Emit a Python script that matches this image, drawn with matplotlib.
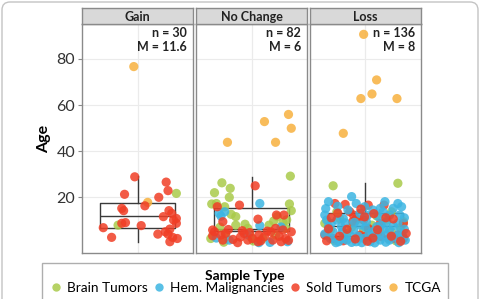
import matplotlib
matplotlib.use("Agg")
import matplotlib.pyplot as plt
from matplotlib.lines import Line2D
from matplotlib.patches import FancyBboxPatch
from matplotlib.transforms import IdentityTransform

plt.rcParams['font.family'] = ['Lato', 'DejaVu Sans']

W, H = 481, 299

PANELS = ["Gain", "No Change", "Loss"]
COUNTS = ["n = 30", "n = 82", "n = 136"]
MEDIANS = ["M = 11.6", "M = 6", "M = 8"]
TYPES = ["Brain Tumors", "Hem. Malignancies", "Sold Tumors", "TCGA"]
CODES = ["B", "H", "S", "T"]
COLORS = {"B": "#a9ca4a", "H": "#3cb5e2", "S": "#f03e26", "T": "#f7b13e"}

# Gain
gain_type = list("TT" + "BB" + "S" * 26)
gain_jit = [0.96, 1.11,
            1.42, 0.79,
            0.97, 1.31, 1.33, 0.86, 1.23, 1.08, 0.83, 0.85, 1.34, 1.37,
            1.28, 1.42, 1.42, 0.87, 1.04, 0.63, 1.35, 1.22, 1.33, 0.72,
            1.38, 1.43, 1.35, 1.39, 1.30, 0.83]
gain_age = [76.7, 17.7,
            21.6, 7.8,
            28.8, 26.5, 22.8, 21.2, 19.9, 16.2, 15.1, 14.1, 14.1, 12.9,
            11.5, 10.7, 8.6, 8.9, 7.6, 6.7, 6.1, 3.9, 3.9, 2.5,
            2.5, 2.0, 0.6, 10.0, 4.9, 8.6]

# No Change
nochange_type = list("T" * 5 + "B" * 29 + "H" * 12 + "S" * 36)
nochange_jit = [1.40, 1.43, 1.14, 0.74, 1.26,
                1.42, 0.68, 0.60, 0.77, 0.76, 0.57, 0.62, 1.41, 1.43, 0.71,
                0.78, 0.83, 0.83, 1.28, 1.34, 1.19, 0.96, 1.37, 0.72, 0.56,
                1.26, 1.12, 0.99, 0.66, 0.93, 1.24, 1.38, 1.02, 0.70,
                1.09, 0.65, 0.71, 0.67, 1.09, 0.76, 1.08, 1.39, 0.62, 1.20,
                0.95, 1.32,
                1.04, 0.87, 0.63, 0.69, 1.27, 1.35, 1.07, 0.60, 0.67, 0.72,
                0.90, 0.92, 0.80, 0.85, 0.96, 1.01, 1.08, 1.14, 1.21, 1.26,
                1.34, 1.43, 1.23, 1.32, 1.37, 0.69, 0.58, 1.07, 0.58, 0.75,
                0.98, 1.17, 1.30, 1.40, 1.10, 0.88]
nochange_age = [55.9, 49.9, 52.8, 43.8, 43.8,
                29.1, 26.2, 21.9, 23.8, 19.9, 17.0, 17.2, 17.0, 14.1, 15.8,
                12.5, 11.5, 7.8, 11.5, 8.9, 7.8, 6.4, 6.4, 3.5, 2.0,
                3.5, 2.0, 2.8, 6.9, 8.2, 9.6, 10.1, 0.9, 0.4,
                17.2, 12.9, 13.6, 11.7, 7.6, 1.3, 0.2, 0.6, 2.2, 0.3,
                3.8, 7.0,
                24.9, 16.5, 15.8, 9.3, 12.2, 12.2, 10.4, 4.9, 3.5, 4.2,
                5.4, 4.2, 1.6, 0.2, 1.3, 2.0, 3.5, 2.8, 4.9, 6.4,
                5.7, 4.9, 1.3, 0.6, 2.0, 1.3, 5.7, 0.6, 3.2, 5.9,
                4.6, 5.2, 3.0, 1.2, 1.0, 2.6]

# Loss
loss_type = list("T" * 6 + "B" * 20 + "S" * 22 + "H" * 70 + "S" * 18)
loss_jit = [0.98, 1.12, 1.07, 0.95, 1.34, 0.76,
            0.65, 1.35, 0.69, 0.56, 0.72, 1.07, 1.16, 1.28, 1.41, 1.28,
            0.62, 0.90, 1.23, 0.80, 0.98, 1.38, 0.66, 1.12, 0.85, 1.33,
            0.67, 0.78, 1.03, 1.20, 0.83, 0.87, 0.86, 0.98, 0.90, 1.03,
            1.16, 1.41, 0.56, 0.65, 0.76, 0.94, 0.99, 1.17, 1.25, 1.32,
            1.41, 1.35,
            0.85, 0.60, 0.90, 1.21, 1.35, 1.39, 1.30, 1.08, 0.56, 0.94,
            1.14, 1.26, 0.69, 0.76, 1.01, 0.60, 1.17, 1.35, 0.87, 1.07,
            1.26, 0.62, 0.71, 0.80, 0.90, 0.98, 1.05, 1.16, 1.32, 1.43,
            0.65, 0.74, 0.94, 1.12, 1.23, 0.81, 0.99, 1.16, 0.83, 1.23,
            1.37, 0.58, 0.76, 1.10, 1.37, 1.26,
            0.57, 0.70, 1.02, 1.19, 1.42, 0.63, 0.88, 1.30, 1.42, 0.75,
            1.00, 1.20, 0.56, 0.92, 1.15, 1.40, 0.68, 0.85, 0.96, 1.10,
            1.22, 1.36, 1.04, 0.78,
            0.60, 0.72, 0.89, 1.08, 1.13, 1.28, 1.44, 0.95, 1.09, 0.63,
            0.80, 1.22, 1.38, 1.02, 0.70, 0.99, 1.30, 0.58]
loss_age = [90.7, 70.9, 64.8, 62.8, 62.8, 47.7,
            24.9, 26.0, 13.6, 8.6, 10.7, 7.8, 4.9, 13.6, 9.3, 4.9,
            5.7, 10.0, 10.0, 4.2, 5.5, 6.8, 1.2, 11.8, 7.0, 1.0,
            17.2, 16.8, 16.5, 16.5, 13.6, 12.2, 9.3, 10.0, 10.7, 6.4,
            8.6, 8.6, 3.5, 2.0, 1.0, 3.5, 2.8, 2.8, 2.0, 2.0,
            2.0, 3.5,
            20.2, 18.0, 17.2, 18.0, 17.2, 15.8, 15.1, 14.4, 12.2, 12.9,
            11.5, 12.2, 10.0, 10.7, 9.3, 7.1, 7.8, 8.6, 5.7, 4.9,
            5.7, 2.0, 0.6, 1.3, 0.6, 2.0, 0.6, 1.3, 2.8, 1.3,
            4.9, 7.1, 7.8, 7.1, 9.3, 14.4, 15.8, 15.1, 3.5, 3.5,
            4.9, 10.0, 2.0, 2.8, 12.2, 1.3,
            15.0, 16.0, 12.0, 13.5, 11.0, 8.5, 9.0, 7.5, 6.0, 5.0,
            6.8, 6.0, 4.0, 3.0, 3.5, 3.2, 0.2, 0.3, 0.2, 0.1,
            0.4, 0.2, 3.9, 8.8,
            6.2, 3.0, 1.8, 2.2, 5.8, 3.0, 4.2, 14.8, 12.8, 11.0,
            6.0, 11.0, 0.8, 0.8, 13.0, 11.4, 10.5, 1.0]

# box stats: low whisker, q1, median, q3, high whisker
box_low = [0.6, 0.2, 0.1]
box_q1 = [6.4, 5.3, 3.0]
box_med = [11.6, 6.0, 7.6]
box_q3 = [17.5, 15.4, 12.9]
box_high = [29.0, 28.8, 26.0]

panel_data = [(gain_jit, gain_age, gain_type),
              (nochange_jit, nochange_age, nochange_type),
              (loss_jit, loss_age, loss_type)]

fig = plt.figure(figsize=(W / 100, H / 100), dpi=100)

# outer rounded frame
frame = FancyBboxPatch((2, -12), 476, H + 10, boxstyle="round,pad=0,rounding_size=8",
                       transform=IdentityTransform(), facecolor="none",
                       edgecolor="#c4c4c4", linewidth=1)
fig.add_artist(frame)

lefts = [82, 196, 310]
pw = 111
top, bottom, strip_top = 24, 253, 8

for i, name in enumerate(PANELS):
    ax = fig.add_axes([lefts[i] / W, 1 - bottom / H, pw / W, (bottom - top) / H])
    ax.set_xlim(0.4, 1.6)
    ax.set_ylim(-4.3, 95.2)
    ax.set_yticks([20, 40, 60, 80])
    ax.set_xticks([1])
    ax.grid(True, color="#ebebeb", linewidth=0.8)
    ax.set_axisbelow(True)
    for s in ax.spines.values():
        s.set_color("#8a8a8a")
        s.set_linewidth(1.0)
    ax.tick_params(axis="x", length=0, labelbottom=False)
    if i == 0:
        ax.tick_params(axis="y", length=3, color="#8a8a8a", labelsize=11.5,
                       labelcolor="#333333", pad=2)
        ax.set_ylabel("Age", fontsize=11.5, fontweight="bold", labelpad=4)
    else:
        ax.tick_params(axis="y", length=0, labelleft=False)

    stats = [dict(whislo=box_low[i], q1=box_q1[i], med=box_med[i],
                  q3=box_q3[i], whishi=box_high[i])]
    ax.bxp(stats, positions=[1], widths=0.82, showfliers=False, showcaps=False,
           boxprops=dict(color="#3a3a3a", linewidth=1.0),
           whiskerprops=dict(color="#3a3a3a", linewidth=1.0),
           medianprops=dict(color="#3a3a3a", linewidth=1.0))

    jit, age, typ = panel_data[i]
    ax.scatter(jit, age, c=[COLORS[t] for t in typ], s=44, alpha=0.85,
               linewidths=0, zorder=3)

    ax.text(1 - 6 / pw, 0.962, COUNTS[i], transform=ax.transAxes, ha="right",
            va="center", fontsize=9, fontweight="bold", color="#222222")
    ax.text(1 - 6 / pw, 0.898, MEDIANS[i], transform=ax.transAxes, ha="right",
            va="center", fontsize=9, fontweight="bold", color="#222222")

    sax = fig.add_axes([lefts[i] / W, 1 - top / H, pw / W, (top - strip_top) / H])
    sax.set_facecolor("#d9d9d9")
    sax.set_xticks([])
    sax.set_yticks([])
    for s in sax.spines.values():
        s.set_color("#8a8a8a")
        s.set_linewidth(1.0)
    sax.text(0.5, 0.45, name, ha="center", va="center", fontsize=9,
             fontweight="bold", color="#222222")

handles = [Line2D([], [], linestyle="none", marker="o", markersize=6,
                  markerfacecolor=COLORS[c], markeredgewidth=0, alpha=0.85)
           for c in CODES]
leg = fig.legend(handles, TYPES, loc="upper center", bbox_to_anchor=(245 / W, 1 - 263 / H),
                 ncol=4, title="Sample Type", fontsize=9.8, frameon=True,
                 fancybox=False, edgecolor="#9a9a9a", handletextpad=0.3,
                 columnspacing=0.35, handlelength=1.0, borderpad=0.5,
                 labelspacing=0.1, borderaxespad=0,
                 title_fontproperties={"weight": "bold", "size": 10})
leg.get_frame().set_linewidth(1.0)
leg._legend_box.sep = 0

fig.savefig("out.png", dpi=100)
